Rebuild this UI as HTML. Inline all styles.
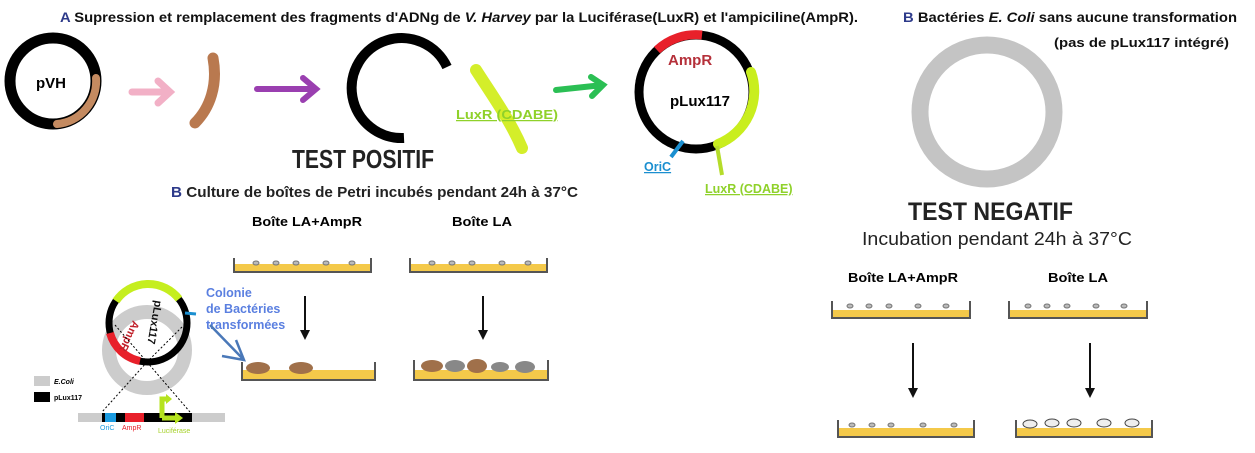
<!DOCTYPE html>
<html><head><meta charset="utf-8"><style>
body{margin:0;background:#fff;width:1255px;height:453px;overflow:hidden}
svg{display:block}
text{font-family:"Liberation Sans",sans-serif}
</style></head><body>
<svg width="1255" height="453" viewBox="0 0 1255 453">
<defs>
<marker id="ah" markerWidth="10" markerHeight="10" refX="5" refY="5" orient="auto" markerUnits="userSpaceOnUse"><path d="M0,0 L10,5 L0,10 z" fill="#111"/></marker>
</defs>
<text x="60" y="22" font-size="14" font-weight="bold" fill="#111" textLength="798" lengthAdjust="spacingAndGlyphs"><tspan fill="#2d3a8a">A</tspan> Supression et remplacement des fragments d'ADNg de <tspan font-style="italic">V. Harvey</tspan> par la Luciférase(LuxR) et l'ampiciline(AmpR).</text>
<text x="903" y="22" font-size="14" font-weight="bold" fill="#111" textLength="334" lengthAdjust="spacingAndGlyphs"><tspan fill="#2d3a8a">B</tspan> Bactéries <tspan font-style="italic">E. Coli</tspan> sans aucune transformation</text>
<text x="1054" y="47" font-size="13" font-weight="bold" fill="#111" textLength="175" lengthAdjust="spacingAndGlyphs">(pas de pLux117 intégré)</text>

<circle cx="53" cy="81" r="43" fill="none" stroke="#000" stroke-width="11"/>
<path d="M96,78 A43,43 0 0 1 57,124" fill="none" stroke="#c48a60" stroke-width="8" stroke-linecap="round"/>
<text x="36" y="88" font-size="15" font-weight="bold">pVH</text>
<path d="M132,92 L170,92 M158,81 L170,92 L158,103" fill="none" stroke="#f2b0c6" stroke-width="7" stroke-linecap="round"/>
<path d="M213,58 C218,85 210,108 195,123" fill="none" stroke="#b9794f" stroke-width="11" stroke-linecap="round"/>
<path d="M257,89 L316,89 M303,78 L316,89 L303,100" fill="none" stroke="#9a3fb0" stroke-width="6" stroke-linecap="round"/>
<path d="M447,67 A50,50 0 1 0 404,138" fill="none" stroke="#000" stroke-width="10"/>
<path d="M476,70 C492,95 510,120 522,148" fill="none" stroke="#d4ee2a" stroke-width="12" stroke-linecap="round"/>
<text x="456" y="119" font-size="12.5" font-weight="bold" fill="#8fd12a" text-decoration="underline" textLength="102" lengthAdjust="spacingAndGlyphs">LuxR (CDABE)</text>
<path d="M556,90 L603,85 M591,77 L603,85 L592,96" fill="none" stroke="#2bbf54" stroke-width="6" stroke-linecap="round"/>
<text x="292" y="168" font-size="26" font-weight="bold" fill="#222" textLength="142" lengthAdjust="spacingAndGlyphs">TEST POSITIF</text>
<text x="171" y="197" font-size="15" font-weight="bold" fill="#222" textLength="407" lengthAdjust="spacingAndGlyphs"><tspan fill="#2d3a8a">B</tspan> Culture de boîtes de Petri incubés pendant 24h à  37°C</text>

<circle cx="696" cy="92" r="57" fill="none" stroke="#000" stroke-width="9"/>
<path d="M657,50 A57,57 0 0 1 702,35" fill="none" stroke="#e8202a" stroke-width="9"/>
<path d="M751,72 A57,57 0 0 1 718,144" fill="none" stroke="#c9ee1e" stroke-width="10" stroke-linecap="round"/>
<line x1="717" y1="146" x2="722" y2="175" stroke="#b5dc2a" stroke-width="4"/>
<line x1="683" y1="141" x2="671" y2="157" stroke="#1b8fd0" stroke-width="4"/>
<text x="668" y="65" font-size="15" font-weight="bold" fill="#b5303a">AmpR</text>
<text x="670" y="106" font-size="15" font-weight="bold">pLux117</text>
<text x="644" y="171" font-size="12.5" font-weight="bold" fill="#1b8fd0" text-decoration="underline">OriC</text>
<text x="705" y="193" font-size="12.5" font-weight="bold" fill="#8fd12a" text-decoration="underline">LuxR (CDABE)</text>

<circle cx="987" cy="112" r="67" fill="none" stroke="#c4c4c4" stroke-width="17"/>
<text x="908" y="220" font-size="25" font-weight="bold" fill="#222" textLength="165" lengthAdjust="spacingAndGlyphs">TEST NEGATIF</text>
<text x="862" y="245" font-size="18" fill="#222" textLength="270" lengthAdjust="spacingAndGlyphs">Incubation  pendant 24h à 37°C</text>
<text x="848" y="282" font-size="13" font-weight="bold" textLength="110" lengthAdjust="spacingAndGlyphs">Boîte LA+AmpR</text>
<text x="1048" y="282" font-size="13" font-weight="bold" textLength="60" lengthAdjust="spacingAndGlyphs">Boîte LA</text>

<text x="252" y="226" font-size="13" font-weight="bold" textLength="110" lengthAdjust="spacingAndGlyphs">Boîte LA+AmpR</text>
<text x="452" y="226" font-size="13" font-weight="bold" textLength="60" lengthAdjust="spacingAndGlyphs">Boîte LA</text>

<rect x="234" y="264" width="137" height="8" fill="#f4c94a"/>
<path d="M234,258 V272 H371 V258" fill="none" stroke="#555" stroke-width="2"/>
<rect x="410" y="264" width="137" height="8" fill="#f4c94a"/>
<path d="M410,258 V272 H547 V258" fill="none" stroke="#555" stroke-width="2"/>
<g fill="#bbb" stroke="#777" stroke-width="1">
<ellipse cx="256" cy="263" rx="3" ry="2"/><ellipse cx="276" cy="263" rx="3" ry="2"/><ellipse cx="296" cy="263" rx="3" ry="2"/><ellipse cx="326" cy="263" rx="3" ry="2"/><ellipse cx="352" cy="263" rx="3" ry="2"/>
<ellipse cx="432" cy="263" rx="3" ry="2"/><ellipse cx="452" cy="263" rx="3" ry="2"/><ellipse cx="472" cy="263" rx="3" ry="2"/><ellipse cx="502" cy="263" rx="3" ry="2"/><ellipse cx="528" cy="263" rx="3" ry="2"/>
</g>
<line x1="305" y1="296" x2="305" y2="335" stroke="#111" stroke-width="2" marker-end="url(#ah)"/>
<line x1="483" y1="296" x2="483" y2="335" stroke="#111" stroke-width="2" marker-end="url(#ah)"/>
<rect x="242" y="370" width="133" height="9" fill="#f4c94a"/>
<path d="M242,362 V380 H375 V362" fill="none" stroke="#555" stroke-width="2"/>
<ellipse cx="258" cy="368" rx="12" ry="6" fill="#a0704a"/>
<ellipse cx="301" cy="368" rx="12" ry="6" fill="#a0704a"/>
<rect x="414" y="370" width="134" height="9" fill="#f4c94a"/>
<path d="M414,360 V380 H548 V360" fill="none" stroke="#555" stroke-width="2"/>
<g><ellipse cx="432" cy="366" rx="11" ry="6" fill="#a0704a"/><ellipse cx="455" cy="366" rx="10" ry="6" fill="#888"/><ellipse cx="477" cy="366" rx="10" ry="7" fill="#a0704a"/><ellipse cx="500" cy="367" rx="9" ry="5" fill="#888"/><ellipse cx="525" cy="367" rx="10" ry="6" fill="#888"/></g>

<rect x="832" y="310" width="138" height="8" fill="#f4c94a"/>
<path d="M832,301 V318 H970 V301" fill="none" stroke="#555" stroke-width="2"/>
<rect x="1009" y="310" width="138" height="8" fill="#f4c94a"/>
<path d="M1009,301 V318 H1147 V301" fill="none" stroke="#555" stroke-width="2"/>
<g fill="#bbb" stroke="#777" stroke-width="1">
<ellipse cx="850" cy="306" rx="3" ry="2"/><ellipse cx="869" cy="306" rx="3" ry="2"/><ellipse cx="889" cy="306" rx="3" ry="2"/><ellipse cx="918" cy="306" rx="3" ry="2"/><ellipse cx="946" cy="306" rx="3" ry="2"/>
<ellipse cx="1028" cy="306" rx="3" ry="2"/><ellipse cx="1047" cy="306" rx="3" ry="2"/><ellipse cx="1067" cy="306" rx="3" ry="2"/><ellipse cx="1096" cy="306" rx="3" ry="2"/><ellipse cx="1124" cy="306" rx="3" ry="2"/>
<ellipse cx="852" cy="425" rx="3" ry="2"/><ellipse cx="872" cy="425" rx="3" ry="2"/><ellipse cx="891" cy="425" rx="3" ry="2"/><ellipse cx="923" cy="425" rx="3" ry="2"/><ellipse cx="954" cy="425" rx="3" ry="2"/>
</g>
<line x1="913" y1="343" x2="913" y2="393" stroke="#111" stroke-width="2" marker-end="url(#ah)"/>
<line x1="1090" y1="343" x2="1090" y2="393" stroke="#111" stroke-width="2" marker-end="url(#ah)"/>
<rect x="838" y="428" width="136" height="9" fill="#f4c94a"/>
<path d="M838,420 V437 H974 V420" fill="none" stroke="#555" stroke-width="2"/>
<rect x="1016" y="428" width="136" height="9" fill="#f4c94a"/>
<path d="M1016,420 V437 H1152 V420" fill="none" stroke="#555" stroke-width="2"/>
<g fill="#eee" stroke="#444" stroke-width="1">
<ellipse cx="1030" cy="424" rx="7" ry="4"/><ellipse cx="1052" cy="423" rx="7" ry="4"/><ellipse cx="1074" cy="423" rx="7" ry="4"/><ellipse cx="1104" cy="423" rx="7" ry="4"/><ellipse cx="1132" cy="423" rx="7" ry="4"/>
</g>

<circle cx="147" cy="350" r="38" fill="none" stroke="#ccc" stroke-width="14"/>
<circle cx="148" cy="323" r="39" fill="none" stroke="#000" stroke-width="7"/>
<path d="M116,301 A39,39 0 0 1 179,299" fill="none" stroke="#c5ee1e" stroke-width="8"/>
<path d="M110,333 A39,39 0 0 0 140,361" fill="none" stroke="#e8202a" stroke-width="8"/>
<line x1="185" y1="313" x2="196" y2="314" stroke="#1b8fd0" stroke-width="3"/>
<text x="0" y="0" font-size="11" font-weight="bold" fill="#111" transform="translate(155,300) rotate(100)">pLux117</text>
<text x="0" y="0" font-size="11" font-weight="bold" fill="#c0202a" transform="translate(133,320) rotate(115)">AmpR</text>
<line x1="115" y1="325" x2="147" y2="362" stroke="#000" stroke-dasharray="2,2"/>
<line x1="182" y1="327" x2="147" y2="362" stroke="#000" stroke-dasharray="2,2"/>
<line x1="147" y1="362" x2="102" y2="412" stroke="#000" stroke-dasharray="2,2"/>
<line x1="147" y1="362" x2="190" y2="412" stroke="#000" stroke-dasharray="2,2"/>
<rect x="78" y="413" width="147" height="9" fill="#ccc"/>
<rect x="102" y="413" width="90" height="9" fill="#000"/>
<rect x="105" y="413" width="11" height="9" fill="#1b9be0"/>
<rect x="125" y="413" width="19" height="9" fill="#e8202a"/>
<path d="M162,418 V399 H168" fill="none" stroke="#b5e31e" stroke-width="5"/>
<path d="M166,394 L172,399 L166,404 z" fill="#b5e31e"/>
<path d="M162,418 H176" fill="none" stroke="#b5e31e" stroke-width="5"/>
<path d="M175,412 L183,418 L175,424 z" fill="#b5e31e"/>
<text x="100" y="430" font-size="7" fill="#1b9be0">OriC</text>
<text x="122" y="430" font-size="7" fill="#e8202a">AmpR</text>
<text x="158" y="433" font-size="7" fill="#a6d12a">Luciférase</text>
<rect x="34" y="376" width="16" height="10" fill="#ccc"/>
<text x="54" y="384" font-size="7" font-style="italic" font-weight="bold">E.Coli</text>
<rect x="34" y="392" width="16" height="10" fill="#000"/>
<text x="54" y="400" font-size="7" font-weight="bold">pLux117</text>
<text x="206" y="297" font-size="12.5" font-weight="bold" fill="#5a7fe0">Colonie</text>
<text x="206" y="313" font-size="12.5" font-weight="bold" fill="#5a7fe0">de Bactéries</text>
<text x="206" y="329" font-size="12.5" font-weight="bold" fill="#5a7fe0">transformées</text>
<path d="M210,325 L244,360 M236,340 L244,360 L222,356" fill="none" stroke="#4a78b8" stroke-width="2.5"/>
</svg>
</body></html>
